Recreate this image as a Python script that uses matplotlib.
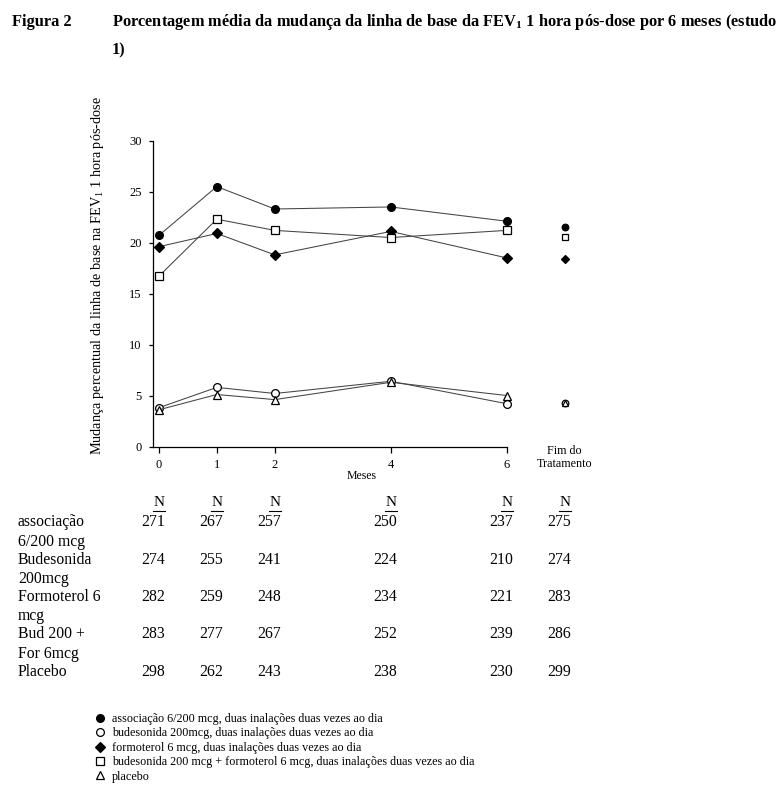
import matplotlib
matplotlib.use("Agg")
import matplotlib.pyplot as plt
from matplotlib.lines import Line2D
from matplotlib import transforms

plt.rcParams['font.family'] = ['Liberation Serif', 'DejaVu Serif']
plt.rcParams['mathtext.fontset'] = 'custom'
plt.rcParams['mathtext.rm'] = 'Liberation Serif'
plt.rcParams['mathtext.it'] = 'Liberation Serif:italic'
plt.rcParams['mathtext.bf'] = 'Liberation Serif:bold'

# ---------------- data ----------------
months = [0, 1, 2, 4, 6]
fim_x = 7
tick_labels = ['0', '1', '2', '4', '6']

assoc = [20.7, 25.5, 23.3, 23.5, 22.1]
assoc_fim = 21.5
bud = [3.8, 5.8, 5.2, 6.4, 4.2]
bud_fim = 4.3
form = [19.6, 20.9, 18.8, 21.1, 18.5]
form_fim = 18.4
budfor = [16.7, 22.3, 21.2, 20.5, 21.2]
budfor_fim = 20.6
placebo = [3.6, 5.1, 4.6, 6.3, 5.0]
placebo_fim = 4.3

table_cols = [0, 1, 2, 4, 6, 7]
row_labels = ["associação\n6/200 mcg", "Budesonida\n200mcg", "Formoterol 6\nmcg",
              "Bud 200 +\nFor 6mcg", "Placebo"]
n_assoc = [271, 267, 257, 250, 237, 275]
n_bud = [274, 255, 241, 224, 210, 274]
n_form = [282, 259, 248, 234, 221, 283]
n_budfor = [283, 277, 267, 252, 239, 286]
n_placebo = [298, 262, 243, 238, 230, 299]
n_rows = [n_assoc, n_bud, n_form, n_budfor, n_placebo]

legend_labels = [
    "associação 6/200 mcg, duas inalações duas vezes ao dia",
    "budesonida 200mcg, duas inalações duas vezes ao dia",
    "formoterol 6 mcg, duas inalações duas vezes ao dia",
    "budesonida 200 mcg + formoterol 6 mcg, duas inalações duas vezes ao dia",
    "placebo",
]

# ---------------- figure ----------------
W, H = 783, 800
fig = plt.figure(figsize=(W / 100, H / 100), dpi=100)

def fy(py):
    return 1 - py / H

def fx(px):
    return px / W

ax = fig.add_axes([fx(153), fy(446.5), 429.2 / W, 305.8 / H])
ax.set_xlim(-0.1, 7.3)
ax.set_ylim(0, 30)

series = [
    (assoc, assoc_fim, dict(marker='o', mfc='black', mec='black', ms=5.6)),
    (bud, bud_fim, dict(marker='o', mfc='white', mec='black', ms=5.6)),
    (form, form_fim, dict(marker='D', mfc='black', mec='black', ms=4.8)),
    (budfor, budfor_fim, dict(marker='s', mfc='white', mec='black', ms=5.2)),
    (placebo, placebo_fim, dict(marker='^', mfc='white', mec='black', ms=5.4)),
]
line_color = '#444444'
for vals, fim, st in series:
    ax.plot(months, vals, color=line_color, lw=0.75, mew=0.9, **st)
for vals, fim, st in series:
    st2 = dict(st)
    st2['ms'] = st['ms'] * 0.85
    ax.plot([fim_x], [fim], linestyle='none', mew=0.9, **st2)

for s in ['top', 'right']:
    ax.spines[s].set_visible(False)
ax.spines['bottom'].set_bounds(-0.1, 6)
ax.spines['left'].set_bounds(0, 30)
for s in ['left', 'bottom']:
    ax.spines[s].set_linewidth(0.9)

ax.set_xticks(months)
ax.set_xticklabels(tick_labels)
ax.set_yticks([0, 5, 10, 15, 20, 25, 30])
ax.tick_params(axis='x', direction='out', length=4, width=0.9, pad=5, labelsize=9)
ax.tick_params(axis='y', direction='out', length=3, width=0.9, pad=5, labelsize=9)

ax.set_ylabel('Mudança percentual da linha de base na FEV$_1$ 1 hora pós-dose', fontsize=10.3)
ax.yaxis.set_label_coords(-0.11, 0.56)
ax.set_xlabel('Meses', fontsize=8.5)
ax.xaxis.set_label_coords(0.485, -0.078)

ax.text(fim_x, -0.036, "Fim do\nTratamento", transform=ax.get_xaxis_transform(),
        ha='center', va='center', fontsize=8.7, linespacing=1.05)

# ---------------- title ----------------
fig.text(fx(12), fy(22), "Figura 2", fontsize=11.8, fontweight='bold', va='center', ha='left')
fig.text(fx(112), fy(22),
         "Porcentagem média da mudança da linha de base da FEV$_\\mathbf{1}$ 1 hora pós-dose por 6 meses (estudo",
         fontsize=11.8, fontweight='bold', va='center', ha='left')
fig.text(fx(112), fy(50), "1)", fontsize=11.8, fontweight='bold', va='center', ha='left')

# ---------------- N table ----------------
btrans = transforms.blended_transform_factory(ax.transData, fig.transFigure)
offs = transforms.ScaledTranslation(6 / 100, 0, fig.dpi_scale_trans)
ctrans = btrans + offs
n_width = 11.5 / 58.0  # width of the "N" glyph in data units of x
for c in table_cols:
    fig.text(c, fy(503), 'N', transform=ctrans, ha='right', va='center', fontsize=11)
    fig.add_artist(Line2D([c - n_width, c], [fy(510.5), fy(510.5)], transform=ctrans,
                          color='black', lw=0.8))

row_y0 = 522
row_dy = 37.5
for i, (lab, vals) in enumerate(zip(row_labels, n_rows)):
    y = row_y0 + i * row_dy
    for j, line in enumerate(lab.split('\n')):
        fig.text(fx(18), fy(y + j * 19.5), line, ha='left', va='center', fontsize=11.3)
    for c, v in zip(table_cols, vals):
        fig.text(c, fy(y), str(v), transform=ctrans, ha='right', va='center', fontsize=11.3)

# ---------------- legend ----------------
handles = []
for vals, fim, st in series:
    handles.append(Line2D([], [], linestyle='none', mew=0.9, **st))
fig.legend(handles, legend_labels, loc='upper left', bbox_to_anchor=(fx(94), fy(713)),
           frameon=False, fontsize=8.7, handlelength=1.0, handletextpad=0.5,
           labelspacing=0.2, borderpad=0, borderaxespad=0)

fig.savefig('out.png', dpi=100)
